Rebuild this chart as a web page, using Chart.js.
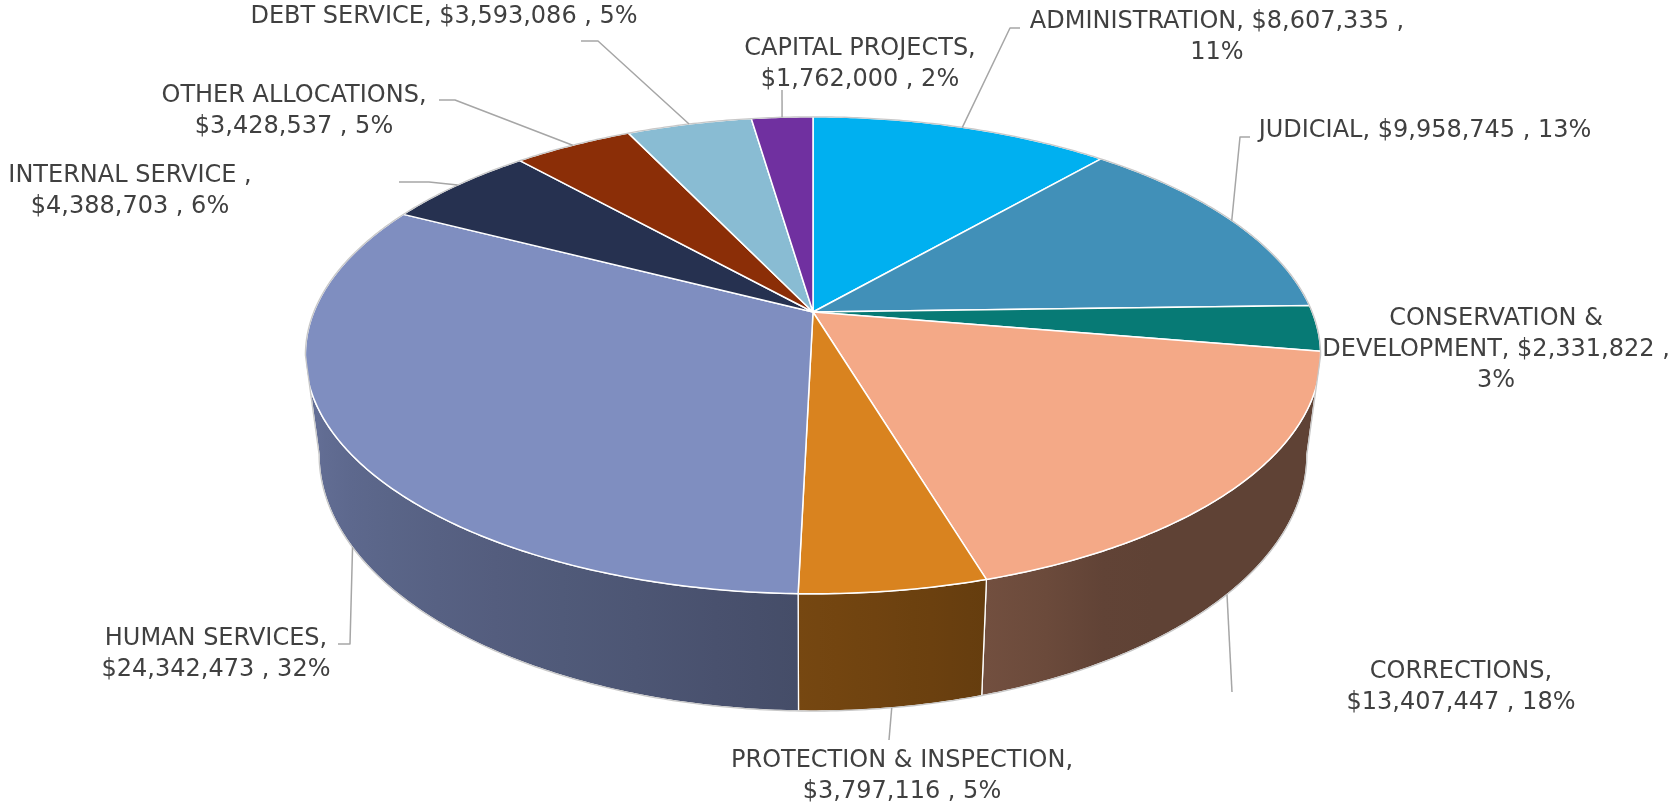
<!DOCTYPE html>
<html>
<head>
<meta charset="utf-8">
<script src="https://cdn.jsdelivr.net/npm/chart.js@4.4.1/dist/chart.umd.min.js"></script>
<style>
  html, body { margin: 0; padding: 0; background: #ffffff; }
  canvas { display: block; }
</style>
</head>
<body>
<canvas id="budgetChart" width="1669" height="807"></canvas>
<script>
const departments = ['ADMINISTRATION', 'JUDICIAL', 'CONSERVATION & DEVELOPMENT', 'CORRECTIONS', 'PROTECTION & INSPECTION',
    'HUMAN SERVICES', 'INTERNAL SERVICE ', 'OTHER ALLOCATIONS', 'DEBT SERVICE', 'CAPITAL PROJECTS'];
const budget = [8607335, 9958745, 2331822, 13407447, 3797116, 24342473, 4388703, 3428537, 3593086, 1762000];
const sliceColors = ['#00B0F0', '#4190B8', '#077A75', '#F4A987', '#D9831F', '#7F8EC0', '#263150', '#8B2E07', '#89BCD3', '#7030A0'];

// where each data label sits: centre x, first baseline, and how many words go on each line
const labelAt = [[1217, 28], [1425, 137], [1496, 325], [1461, 678], [902, 767], [216, 645], [130, 182], [294, 102], [444, 23], [860, 55]];
const wordsPerLine = [[3, 1], [9], [2, 3, 1], [1, 3], [3, 3], [2, 3], [3, 3], [2, 3], [9], [2, 3]];
// leader line points on the label side (the end on the pie is worked out from the slice)
const leaderFrom = [
    [[1020, 28], [1010, 28]], [[1250, 137], [1240, 137]], [], [[1232, 692]], [[889, 740]],
    [[338, 644], [350, 644]], [[399, 182], [429, 182]], [[439, 100], [455, 100]], [[581, 41], [598, 41]], [[782, 90]]
];

const TILT = 0.462;    // how flat the disk looks
const PERSP = 5.51;    // camera distance, in radii
const THICK = 96;      // height of the side wall
const SHRINK = 0.027;  // bottom of the disk is a bit narrower (further away)
const R_SCALE = 1.6;   // stretch of chart.js radius to the drawn radius
const LINE_H = 31;

function project(geo, a, drop) {
    const u = Math.cos(a), v = Math.sin(a);
    const k = PERSP / (PERSP - v);
    const w = 1 - SHRINK * drop / THICK;
    return [geo.cx + geo.r * u * k * w, geo.cy + geo.r * TILT * v * k + drop * k];
}

function rim(geo, a0, a1, drop) {
    const n = Math.max(2, Math.ceil((a1 - a0) / 0.01));
    const pts = [];
    for (let i = 0; i <= n; i++) pts.push(project(geo, a0 + (a1 - a0) * i / n, drop));
    return pts;
}

function shade(hex, a) {
    const deg = a * 180 / Math.PI;
    const s = Math.pow(Math.min(Math.max((deg - 60) / 120, 0), 1), 0.8);
    const f = 0.39 + 0.45 * s;
    const r = parseInt(hex.slice(1, 3), 16), g = parseInt(hex.slice(3, 5), 16), b = parseInt(hex.slice(5, 7), 16);
    return 'rgb(' + Math.round(r * f) + ',' + Math.round(g * f) + ',' + Math.round(b * f) + ')';
}

// join = true keeps drawing from the current point instead of starting a new one
function path(ctx, pts, join) {
    if (join) ctx.lineTo(pts[0][0], pts[0][1]);
    else ctx.moveTo(pts[0][0], pts[0][1]);
    for (let i = 1; i < pts.length; i++) ctx.lineTo(pts[i][0], pts[i][1]);
}

const pie3d = {
    id: 'pie3d',
    beforeDatasetsDraw() {
        return false; /* flat pie is not drawn, we draw the 3d one below */
    },
    afterDraw(chart) {
        const ctx = chart.ctx;
        const arcs = chart.getDatasetMeta(0).data;
        const colors = chart.data.datasets[0].backgroundColor;
        const geo = { cx: arcs[0].x, cy: arcs[0].y, r: arcs[0].outerRadius * R_SCALE };
        const vis0 = Math.asin(1 / PERSP), vis1 = Math.PI - vis0;

        ctx.save();
        ctx.lineJoin = 'round';

        // side walls
        arcs.forEach(function (arc, i) {
            const a0 = Math.max(arc.startAngle, vis0), a1 = Math.min(arc.endAngle, vis1);
            if (a1 <= a0) return;
            const top = rim(geo, a0, a1, 0);
            const bot = rim(geo, a0, a1, THICK).reverse();
            const xs = top.map(p => p[0]);
            const xmin = Math.min.apply(null, xs), xmax = Math.max.apply(null, xs);
            const grad = ctx.createLinearGradient(xmin, 0, xmax, 0);
            for (let j = 0; j <= 10; j++) {
                const a = a0 + (a1 - a0) * j / 10;
                const x = project(geo, a, 0)[0];
                grad.addColorStop(xmax > xmin ? (x - xmin) / (xmax - xmin) : 0, shade(colors[i], a));
            }
            ctx.beginPath();
            path(ctx, top.concat(bot));
            ctx.closePath();
            ctx.fillStyle = grad;
            ctx.fill();
            ctx.strokeStyle = '#ffffff';
            ctx.lineWidth = 1.3;
            ctx.stroke();
        });

        // top faces
        arcs.forEach(function (arc, i) {
            ctx.beginPath();
            ctx.moveTo(geo.cx, geo.cy);
            path(ctx, rim(geo, arc.startAngle, arc.endAngle, 0), true);
            ctx.closePath();
            ctx.fillStyle = colors[i];
            ctx.fill();
            ctx.strokeStyle = '#ffffff';
            ctx.lineWidth = 1.5;
            ctx.stroke();
        });

        // outer outline
        ctx.beginPath();
        path(ctx, rim(geo, vis1, vis0 + 2 * Math.PI, 0));
        path(ctx, rim(geo, vis0, vis1, THICK));
        ctx.lineTo.apply(ctx, project(geo, vis1, 0));
        ctx.moveTo.apply(ctx, project(geo, vis0, 0));
        ctx.lineTo.apply(ctx, project(geo, vis0, THICK));
        ctx.strokeStyle = '#c8c8c8';
        ctx.lineWidth = 1.3;
        ctx.stroke();

        // leader lines
        const total = budget.reduce((s, v) => s + v, 0);
        ctx.strokeStyle = '#a6a6a6';
        ctx.lineWidth = 1.5;
        arcs.forEach(function (arc, i) {
            if (!leaderFrom[i].length) return;
            const mid = (arc.startAngle + arc.endAngle) / 2;
            const front = mid > vis0 && mid < vis1;
            const end = project(geo, mid, front ? THICK : 0);
            ctx.beginPath();
            path(ctx, leaderFrom[i].concat([end]));
            ctx.stroke();
        });

        // data labels
        ctx.fillStyle = '#404040';
        ctx.font = '24px "DejaVu Sans"';
        ctx.textAlign = 'center';
        ctx.textBaseline = 'alphabetic';
        departments.forEach(function (name, i) {
            const pct = Math.round(budget[i] / total * 100);
            const text = name + ', $' + budget[i].toLocaleString('en-US') + ' , ' + pct + '%';
            const words = text.split(' ');
            let pos = 0;
            wordsPerLine[i].forEach(function (count, line) {
                const part = words.slice(pos, pos + count).join(' ');
                pos += count;
                if (part) ctx.fillText(part, labelAt[i][0], labelAt[i][1] + line * LINE_H);
            });
        });
        ctx.restore();
    }
};

new Chart(document.getElementById('budgetChart'), {
    type: 'pie',
    data: {
        labels: departments,
        datasets: [{
            data: budget,
            backgroundColor: sliceColors,
            borderWidth: 0
        }]
    },
    options: {
        responsive: false,
        animation: false,
        devicePixelRatio: 1,
        events: [],
        layout: { padding: { left: 0, right: 43, top: 0, bottom: 183 } },
        plugins: {
            legend: { display: false },
            tooltip: { enabled: false }
        }
    },
    plugins: [pie3d]
});
</script>
</body>
</html>
